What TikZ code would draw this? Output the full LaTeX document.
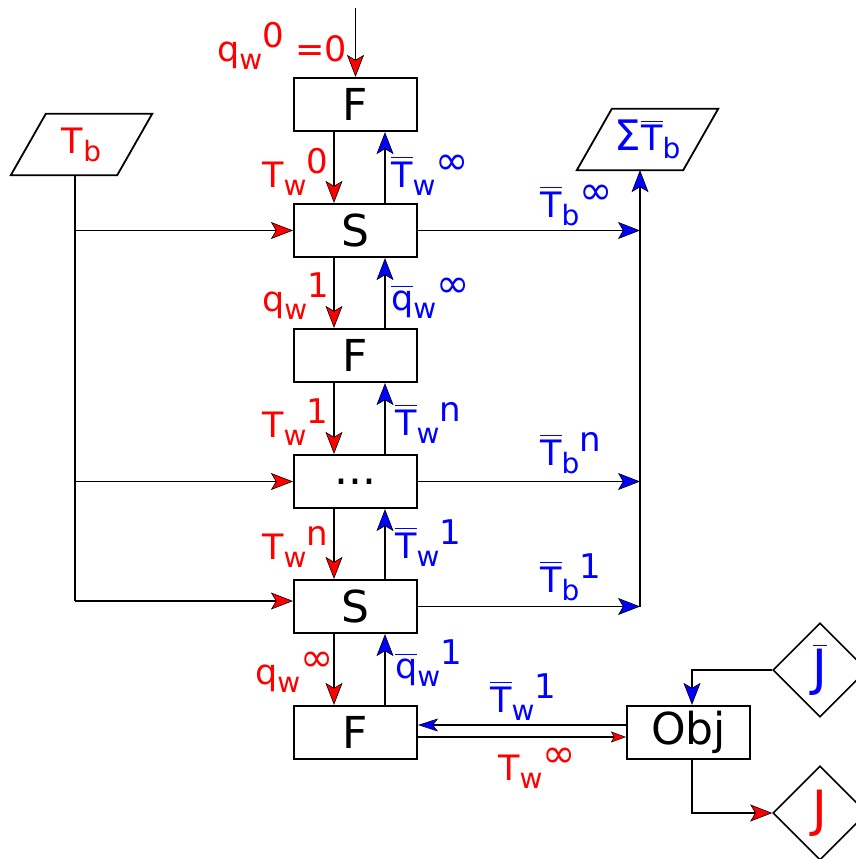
\documentclass[tikz,border=0pt]{standalone}
\usepackage{fontspec}
\setmainfont{DejaVu Sans}
\usetikzlibrary{arrows.meta,shapes.geometric}
\definecolor{lblred}{RGB}{255,0,0}
\definecolor{lblblue}{RGB}{0,0,255}

% overbar, subscript and superscript for the flow labels
\newcommand\ob[1]{\vbox{\hrule height 1.5pt\kern 3pt\hbox{#1}}}
\newcommand\lo[1]{\raisebox{-8pt}{\fontsize{28pt}{28pt}\selectfont #1}}
\newcommand\hi[1]{\raisebox{14pt}{\fontsize{34pt}{34pt}\selectfont #1}}
\newcommand\hinf{\raisebox{13pt}{\fontsize{40pt}{40pt}\selectfont ∞}}

\tikzset{
  blk/.style={draw, line width=2.2pt, minimum width=123pt, minimum height=53pt,
    inner sep=0pt, font=\fontsize{44pt}{44pt}\selectfont},
  lbl/.style={anchor=base west, inner sep=0pt, font=\fontsize{35pt}{35pt}\selectfont},
  rlbl/.style={lbl, text=lblred},
  blbl/.style={lbl, text=lblblue},
  wire/.style={line width=1.8pt},
  rarr/.style={wire, -{Stealth[length=22pt,width=17pt,inset=5pt,fill=lblred,line width=0.6pt]}},
  barr/.style={wire, -{Stealth[length=22pt,width=17pt,inset=5pt,fill=lblblue,line width=0.6pt]}},
  rsmall/.style={line width=1.3pt, -{Stealth[length=15pt,width=11pt,inset=3pt,fill=lblred,line width=0.5pt]}},
  bsmall/.style={line width=1.3pt, -{Stealth[length=20pt,width=13pt,inset=5pt,fill=lblblue,line width=0.5pt]}},
  pgram/.style={minimum width=141pt, minimum height=61pt, inner sep=0pt,
    font=\fontsize{35pt}{35pt}\selectfont},
  dmd/.style={diamond, draw, line width=1.6pt, minimum width=94pt, minimum height=94pt,
    inner sep=0pt, font=\fontsize{50pt}{50pt}\selectfont},
}

\begin{document}
\begin{tikzpicture}[x=1pt,y=-1pt]
\useasboundingbox (0,0) rectangle (856,859);

% stage blocks
\node[blk] (f1) at (355.5,104.5) {F};
\node[blk] (s1) at (355.5,230.5) {S};
\node[blk] (f2) at (355.5,355.5) {F};
\node[blk] (dt) at (355.5,481.5) {...};
\node[blk] (s2) at (355.5,606.5) {S};
\node[blk] (f3) at (355.5,732.5) {F};
\node[blk] (obj) at (688.5,732.5) {Obj};

% input / output parallelograms
\node[pgram, text=lblred] (tb) at (81.5,144.5) {T\lo{b}};
\draw[wire] (tb.south west) -- ([xshift=-35pt]tb.south east) -- (tb.north east)
  -- ([xshift=35pt]tb.north west) -- cycle;
\node[pgram, text=lblblue] (sum) at (647.5,139.5) {{\fontsize{42pt}{42pt}\selectfont Σ}\ob{T}\lo{b}};
\draw[wire] (sum.south west) -- ([xshift=-35pt]sum.south east) -- (sum.north east)
  -- ([xshift=35pt]sum.north west) -- cycle;

% decision diamonds
\node[dmd, text=lblblue] (jb) at (820,670) {\ob{J}};
\node[dmd, text=lblred] (jj) at (820,813) {J};

% feed and bus points
\coordinate (in0) at (355.5,8);
\coordinate (b1) at (75,230.5);
\coordinate (b2) at (75,481.5);
\coordinate (b3) at (75,601);
\coordinate (bus) at (640,606.5);

% vertical chain: red downward, blue upward
\draw[rarr] (in0) -- (f1.north);
\foreach \u/\v in {f1/s1, s1/f2, f2/dt, dt/s2, s2/f3} {
  \draw[rarr] ([xshift=-21.5pt]\u.south) -- ([xshift=-21.5pt]\v.north);
  \draw[barr] ([xshift=29.5pt]\v.north) -- ([xshift=29.5pt]\u.south);
}

% T_b distribution
\draw[wire] (tb.south -| b3) -- (b3);
\draw[rarr] (b1) -- (b1 -| s1.west);
\draw[rarr] (b2) -- (b2 -| dt.west);
\draw[rarr] (b3) -- (b3 -| s2.west);

% collected outputs
\draw[barr] (s1.east) -- (s1.east -| bus);
\draw[barr] (dt.east) -- (dt.east -| bus);
\draw[barr] (s2.east) -- (bus);
\draw[barr] (bus) -- (bus |- sum.south);

% objective links
\draw[bsmall] ([yshift=7.5pt]obj.west) -- ([yshift=7.5pt]obj.west -| f3.east);
\draw[rsmall] ([yshift=-4.5pt]f3.east) -- ([yshift=-4.5pt]f3.east -| obj.west);
\draw[barr] (jb.west) -| ([xshift=3.5pt]obj.north);
\draw[rarr] ([xshift=3.5pt]obj.south) |- (jj.west);

% flow labels
\node[rlbl] at (217,62) {q\lo{w}\hi{0} =0};
\node[rlbl] at (262,187) {T\lo{w}\hi{0}};
\node[rlbl] at (262,311) {q\lo{w}\hi{1}};
\node[rlbl] at (262,437) {T\lo{w}\hi{1}};
\node[rlbl] at (262,559) {T\lo{w}\hi{n}};
\node[rlbl] at (255,684) {q\lo{w}\hinf};
\node[blbl] at (391,187) {\ob{T}\lo{w}\hinf};
\node[blbl] at (391,310) {\ob{q}\lo{w}\hinf};
\node[blbl] at (395,435) {\ob{T}\lo{w}\hi{n}};
\node[blbl] at (395,558) {\ob{T}\lo{w}\hi{1}};
\node[blbl] at (395,678) {\ob{q}\lo{w}\hi{1}};
\node[blbl] at (540,217) {\ob{T}\lo{b}\hinf};
\node[blbl] at (540,465) {\ob{T}\lo{b}\hi{n}};
\node[blbl] at (540,592) {\ob{T}\lo{b}\hi{1}};
\node[blbl] at (490,712) {\ob{T}\lo{w}\hi{1}};
\node[rlbl] at (498,780) {T\lo{w}\hinf};
\end{tikzpicture}
\end{document}
